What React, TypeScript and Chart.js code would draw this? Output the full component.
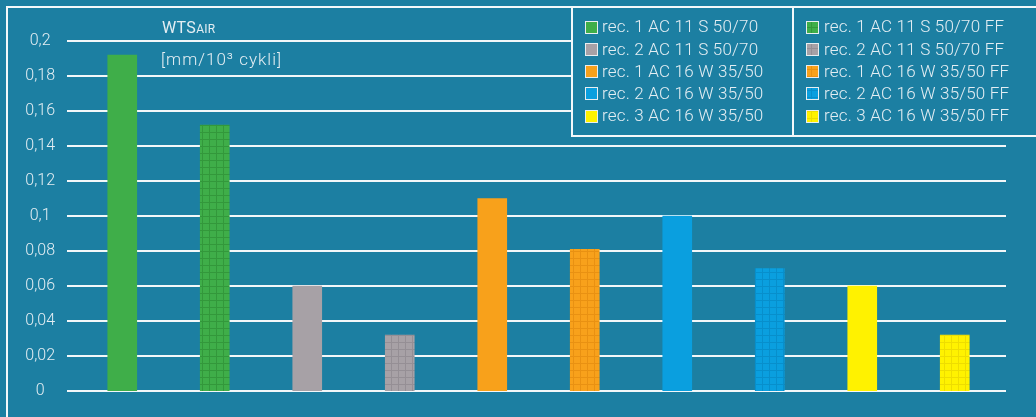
import React, { useEffect, useRef } from 'react';
import { Chart, registerables } from 'chart.js';
Chart.register(...registerables);

const categories = [
  'rec. 1 AC 11 S 50/70', 'rec. 1 AC 11 S 50/70 FF',
  'rec. 2 AC 11 S 50/70', 'rec. 2 AC 11 S 50/70 FF',
  'rec. 1 AC 16 W 35/50', 'rec. 1 AC 16 W 35/50 FF',
  'rec. 2 AC 16 W 35/50', 'rec. 2 AC 16 W 35/50 FF',
  'rec. 3 AC 16 W 35/50', 'rec. 3 AC 16 W 35/50 FF',
];
const values = [0.192, 0.152, 0.06, 0.032, 0.11, 0.081, 0.1, 0.07, 0.06, 0.032];
const baseColors = ['#3fae49', '#3fae49', '#a7a1a6', '#a7a1a6', '#f8a11b', '#f8a11b', '#0a9fdf', '#0a9fdf', '#fff200', '#fff200'];
const lineColors = ['#33983b', '#33983b', '#958f95', '#958f95', '#e99112', '#e99112', '#078fcc', '#078fcc', '#eedd00', '#eedd00'];
const hatched = [false, true, false, true, false, true, false, true, false, true];
const legendLeft = ['rec. 1 AC 11 S 50/70', 'rec. 2 AC 11 S 50/70', 'rec. 1 AC 16 W 35/50', 'rec. 2 AC 16 W 35/50', 'rec. 3 AC 16 W 35/50'];
const legendRight = ['rec. 1 AC 11 S 50/70 FF', 'rec. 2 AC 11 S 50/70 FF', 'rec. 1 AC 16 W 35/50 FF', 'rec. 2 AC 16 W 35/50 FF', 'rec. 3 AC 16 W 35/50 FF'];
const legendLeftColors = [0, 2, 4, 6, 8];
const legendRightColors = [1, 3, 5, 7, 9];
const yTickLabels = ['0', '0,02', '0,04', '0,06', '0,08', '0,1', '0,12', '0,14', '0,16', '0,18', '0,2'];
const titleMain = 'WTS';
const titleSub = 'AIR';
const unitLabel = '[mm/10³ cykli]';

const BG = '#1c7fa2';
const TEXT = '#e4eef3';
const FONT = 'Roboto';

function makePattern(color: string, line: string) {
  const c = document.createElement('canvas');
  c.width = 7; c.height = 7;
  const g = c.getContext('2d')!;
  g.fillStyle = color; g.fillRect(0, 0, 7, 7);
  g.fillStyle = line; g.fillRect(6, 0, 1, 7); g.fillRect(0, 6, 7, 1);
  return g.createPattern(c, 'repeat')!;
}

export default function App() {
  const ref = useRef<HTMLCanvasElement>(null);
  useEffect(() => {
    document.body.style.margin = '0';
    const fills = baseColors.map((c, i) => (hatched[i] ? makePattern(c, lineColors[i]) : c));

    const decor = {
      id: 'decor',
      beforeDraw(chart: any) {
        const ctx = chart.ctx;
        ctx.save();
        ctx.fillStyle = BG;
        ctx.fillRect(0, 0, chart.width, chart.height);
        ctx.strokeStyle = '#f4f8fa';
        ctx.lineWidth = 2;
        ctx.beginPath();
        ctx.moveTo(7, 417); ctx.lineTo(7, 7); ctx.lineTo(1036, 7);
        ctx.stroke();
        ctx.restore();
      },
      beforeDatasetsDraw(chart: any) {
        const ctx = chart.ctx;
        const ys = chart.scales.y;
        ctx.save();
        ctx.strokeStyle = '#f2f7f9';
        ctx.lineWidth = 2;
        ys.ticks.forEach((t: any) => {
          const py = Math.round(ys.getPixelForValue(t.value));
          ctx.beginPath();
          ctx.moveTo(67, py); ctx.lineTo(1006, py);
          ctx.stroke();
        });
        ctx.restore();
      },
      afterDatasetsDraw(chart: any) {
        const ctx = chart.ctx;
        ctx.save();
        // legend boxes
        ctx.fillStyle = BG;
        ctx.fillRect(572, 8, 464, 128);
        ctx.strokeStyle = '#f4f8fa';
        ctx.lineWidth = 2;
        ctx.beginPath();
        ctx.moveTo(572, 7); ctx.lineTo(572, 136); ctx.lineTo(1036, 136);
        ctx.moveTo(793, 7); ctx.lineTo(793, 136);
        ctx.stroke();
        ctx.font = `300 17px ${FONT}`;
        (ctx as any).letterSpacing = '0.2px';
        ctx.textBaseline = 'middle';
        ctx.textAlign = 'left';
        const drawCol = (labels: string[], idx: number[], sx: number, tx: number) => {
          labels.forEach((lab, i) => {
            const cy = 27 + i * 22.3;
            ctx.fillStyle = '#e8eef0';
            ctx.fillRect(sx - 1, Math.round(cy - 6.5), 13, 13);
            ctx.fillStyle = fills[idx[i]];
            ctx.fillRect(sx, Math.round(cy - 5.5), 11, 11);
            ctx.fillStyle = TEXT;
            ctx.fillText(lab, tx, cy + 1);
          });
        };
        drawCol(legendLeft, legendLeftColors, 586, 602);
        drawCol(legendRight, legendRightColors, 807, 824);
        // title
        ctx.fillStyle = TEXT;
        ctx.textBaseline = 'alphabetic';
        (ctx as any).letterSpacing = '0.3px';
        ctx.font = `400 16px ${FONT}`;
        ctx.fillText(titleMain, 162, 33);
        const w = ctx.measureText(titleMain).width;
        ctx.font = `400 12px ${FONT}`;
        ctx.fillText(titleSub, 162 + w, 33);
        (ctx as any).letterSpacing = '1px';
        ctx.font = `300 17px ${FONT}`;
        ctx.textBaseline = 'middle';
        ctx.fillText(unitLabel, 161, 61);
        ctx.restore();
      },
    };

    const chart = new Chart(ref.current!, {
      type: 'bar',
      data: {
        labels: categories,
        datasets: [{
          data: values,
          backgroundColor: fills as any,
          borderWidth: 0,
          barThickness: 29,
        }],
      },
      options: {
        animation: false,
        responsive: false,
        layout: { padding: { left: 8, top: 41, right: 35, bottom: 26 } },
        plugins: { legend: { display: false }, tooltip: { enabled: false } },
        scales: {
          x: { display: false, offset: true },
          y: {
            min: 0, max: 0.2,
            afterFit: (s: any) => { s.width = 68; s.paddingTop = 10; s.paddingBottom = 10; },
            border: { display: false },
            grid: { display: false, drawTicks: false },
            ticks: {
              stepSize: 0.02,
              crossAlign: 'center',
              padding: 21,
              color: TEXT,
              font: { family: FONT, size: 16, weight: '300' as any },
              callback: (_v: any, i: number) => yTickLabels[i],
            },
          },
        },
      },
      plugins: [decor],
    });
    return () => chart.destroy();
  }, []);
  return (
    <div style={{ width: 1036, height: 417 }}>
      <canvas ref={ref} width={1036} height={417} />
    </div>
  );
}
